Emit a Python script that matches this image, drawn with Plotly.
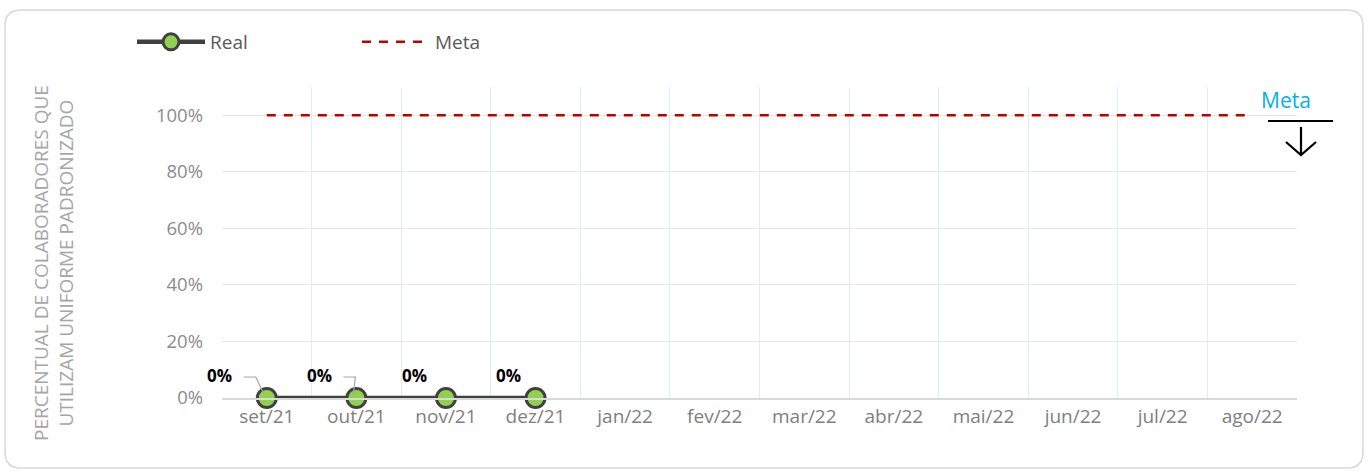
import plotly.graph_objects as go

months = ["set/21", "out/21", "nov/21", "dez/21", "jan/22", "fev/22", "mar/22",
          "abr/22", "mai/22", "jun/22", "jul/22", "ago/22"]
real_months = ["set/21", "out/21", "nov/21", "dez/21"]
real_values = [0.0, 0.0, 0.0, 0.0]
meta_values = [1.0] * 12
label_offsets = [-47, -37, -31, -27]  # label x offset (px) from point
leader = [True, True, False, False]
y_ticks = [0, 0.2, 0.4, 0.6, 0.8, 1.0]
y_tick_text = ["0%", "20%", "40%", "60%", "80%", "100%"]

W, H = 1368, 472
ML, MR, MT, MB = 222, 71, 87, 74
PW, PH = W - ML - MR, H - MT - MB

def px(x):
    return (x - ML) / PW

def py(y):
    return (H - MB - y) / PH

fig = go.Figure()

fig.add_trace(go.Scatter(
    x=real_months, y=real_values, name="Real", mode="lines+markers",
    line=dict(color="#404040", width=4.5),
    marker=dict(size=19, color="#92d050", line=dict(color="#404040", width=3)),
    cliponaxis=False,
))
fig.add_trace(go.Scatter(
    x=months, y=meta_values, name="Meta", mode="lines",
    line=dict(color="#c00000", width=2.5, dash="9px,8px"),
    cliponaxis=False,
))

annotations = []
shapes = []
for m, v, off, ld in zip(real_months, real_values, label_offsets, leader):
    annotations.append(dict(
        x=m, y=v, xref="x", yref="y", text="<b>%d%%</b>" % round(v * 100),
        showarrow=False, xshift=off, yshift=23, xanchor="center", yanchor="middle",
        font=dict(family="Open Sans", size=17, color="#000000"),
    ))
    if ld:
        shapes.append(dict(
            type="path", xref="x", yref="y", xsizemode="pixel", ysizemode="pixel",
            xanchor=m, yanchor=v,
            path="M %d,21 L %d,21 L -3,4" % (off + 24, off + 36),
            line=dict(color="#a6a6a6", width=1.2),
        ))

# Meta annotation with bar and down arrow (paper coordinates, not clipped)
annotations.append(dict(
    x=px(1286), y=py(100), xref="paper", yref="paper", text="Meta", showarrow=False,
    xanchor="center", yanchor="middle",
    font=dict(family="Open Sans", size=21, color="#00b0f0"),
))
shapes.append(dict(type="line", xref="paper", yref="paper",
                   x0=px(1268), x1=px(1333), y0=py(121), y1=py(121),
                   line=dict(color="#000000", width=2)))
shapes.append(dict(type="path", xref="paper", yref="paper",
                   path="M %f,%f L %f,%f M %f,%f L %f,%f L %f,%f" % (
                       px(1301), py(127), px(1301), py(155),
                       px(1286), py(142), px(1301), py(155), px(1316), py(142)),
                   line=dict(color="#000000", width=2.2)))

# Rounded border
x0, x1, y0, y1 = px(5), px(1363), py(468), py(10)
rx, ry = 16 / PW, 16 / PH
border = ("M %f,%f L %f,%f Q %f,%f %f,%f L %f,%f Q %f,%f %f,%f L %f,%f Q %f,%f %f,%f "
          "L %f,%f Q %f,%f %f,%f Z") % (
    x0 + rx, y1, x1 - rx, y1, x1, y1, x1, y1 - ry, x1, y0 + ry, x1, y0, x1 - rx, y0,
    x0 + rx, y0, x0, y0, x0, y0 + ry, x0, y1 - ry, x0, y1, x0 + rx, y1)
shapes.append(dict(type="path", xref="paper", yref="paper", path=border,
                   line=dict(color="#d9d9d9", width=1.5), layer="below"))

# Y-axis title
annotations.append(dict(
    x=px(53), y=py(263), xref="paper", yref="paper", textangle=-90,
    xanchor="center", yanchor="middle",
    text="PERCENTUAL DE COLABORADORES QUE<br>UTILIZAM UNIFORME PADRONIZADO",
    showarrow=False, font=dict(family="Open Sans", size=19, color="#a6a6a6"),
))

fig.update_layout(
    width=W, height=H, margin=dict(l=ML, r=MR, t=MT, b=MB),
    paper_bgcolor="white", plot_bgcolor="white",
    font=dict(family="Open Sans", size=15, color="#8c8c8c"),
    showlegend=True,
    legend=dict(orientation="h", x=px(132), y=py(42), xanchor="left", yanchor="middle",
                entrywidth=142, entrywidthmode="pixels", itemwidth=68,
                font=dict(family="Open Sans", size=19, color="#595959"),
                bgcolor="rgba(0,0,0,0)"),
    annotations=annotations, shapes=shapes,
)
fig.update_xaxes(
    type="category", categoryorder="array", categoryarray=months,
    range=[-0.5, len(months) - 0.5], tickson="boundaries",
    showgrid=True, gridcolor="#ddeef8", gridwidth=1,
    showline=True, linecolor="#d9d9d9", linewidth=1.5,
    ticks="", tickfont=dict(color="#808080", size=19), zeroline=False,
)
fig.update_yaxes(
    range=[0, 1.1], tickvals=y_ticks, ticktext=y_tick_text,
    showgrid=True, gridcolor="#e6e6e6", gridwidth=1, zeroline=False,
    showline=False, ticks="", ticklabelstandoff=18,
    tickfont=dict(color="#8c8c8c", size=18.5),
)

fig.write_html("out.html", config={"displayModeBar": False},
               post_script="document.body.style.margin='0';")
